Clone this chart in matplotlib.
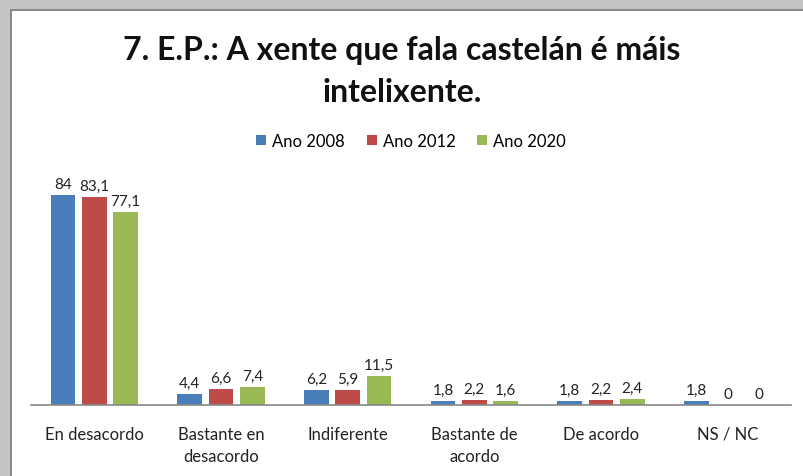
import matplotlib
matplotlib.use("Agg")
import matplotlib.pyplot as plt
import numpy as np
from matplotlib.patches import Rectangle

plt.rcParams['font.family'] = ['Lato', 'DejaVu Sans']

categories = ["En desacordo", "Bastante en\ndesacordo", "Indiferente",
              "Bastante de\nacordo", "De acordo", "NS / NC"]
years = ["Ano 2008", "Ano 2012", "Ano 2020"]
v2008 = [84, 4.4, 6.2, 1.8, 1.8, 1.8]
v2012 = [83.1, 6.6, 5.9, 2.2, 2.2, 0]
v2020 = [77.1, 7.4, 11.5, 1.6, 2.4, 0]
colors = ["#4a7ebb", "#be4b48", "#98b954"]

fig = plt.figure(figsize=(8.04, 4.77), dpi=100)
fig.patch.set_facecolor("white")

# grey screenshot frame on top and left
W, H = 804, 477
fig.patches.append(Rectangle((0, 1 - 10 / H), 1, 10 / H, transform=fig.transFigure,
                             facecolor="#c4c4c4", edgecolor="none", zorder=0))
fig.patches.append(Rectangle((0, 0), 10 / W, 1, transform=fig.transFigure,
                             facecolor="#c4c4c4", edgecolor="none", zorder=0))
fig.patches.append(Rectangle((10 / W, 1 - 12 / H), 1, 2 / H, transform=fig.transFigure,
                             facecolor="#8a8a8a", edgecolor="none", zorder=1))
fig.patches.append(Rectangle((10 / W, 0), 2 / W, 1 - 10 / H, transform=fig.transFigure,
                             facecolor="#8a8a8a", edgecolor="none", zorder=1))

ax = fig.add_axes([31 / W, 1 - 406 / H, (791 - 31) / W, (406 - 181) / H])
x = np.arange(len(categories))
width = 0.195
step = 0.247
for i, (vals, lab) in enumerate(zip([v2008, v2012, v2020], years)):
    bars = ax.bar(x + (i - 1) * step, vals, width, color=colors[i], label=lab, zorder=2)
    for b, v in zip(bars, vals):
        txt = str(v).replace(".", ",")
        ax.text(b.get_x() + b.get_width() / 2, v + 1.6, txt, ha="center", va="bottom",
                fontsize=11, color="#222222")

ax.set_xlim(-0.5, len(categories) - 0.5)
ax.set_ylim(0, 90)
ax.set_yticks([])
ax.set_xticks(x)
ax.set_xticklabels(categories, fontsize=12, color="#222222", linespacing=1.5)
ax.tick_params(axis="x", length=0, pad=15)
for s in ["top", "right", "left"]:
    ax.spines[s].set_visible(False)
ax.spines["bottom"].set_color("#888888")
ax.spines["bottom"].set_linewidth(1.2)

fig.text(0.5, 1 - 60 / H, "7. E.P.: A xente que fala castelán é máis", ha="center",
         va="baseline", fontsize=23, fontweight="bold", color="#111111")
fig.text(0.5, 1 - 102 / H, "intelixente.", ha="center", va="baseline",
         fontsize=23, fontweight="bold", color="#111111")

fig.legend(loc="center", bbox_to_anchor=(411 / W, 1 - 142 / H), ncol=3, frameon=False,
           fontsize=12, handlelength=0.6, handleheight=0.6, handletextpad=0.35,
           columnspacing=1.3)

fig.savefig("out.png", dpi=100)
